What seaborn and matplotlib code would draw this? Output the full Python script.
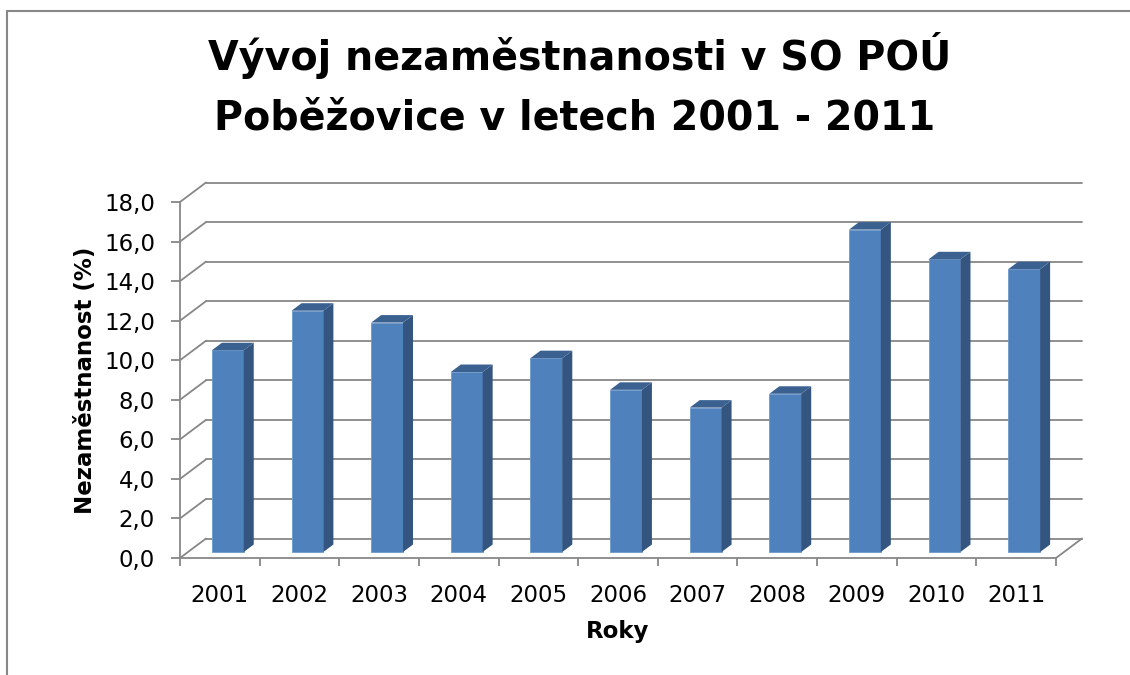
import matplotlib

matplotlib.use("Agg")
import matplotlib.pyplot as plt
import matplotlib.transforms as mtransforms
from matplotlib.lines import Line2D
from matplotlib.patches import Polygon
import pandas as pd
import seaborn as sns

years = ["2001", "2002", "2003", "2004", "2005", "2006", "2007", "2008", "2009", "2010", "2011"]
rates = [10.2, 12.2, 11.6, 9.1, 9.8, 8.2, 7.3, 8.0, 16.3, 14.8, 14.3]
y_ticks = [0, 2, 4, 6, 8, 10, 12, 14, 16, 18]
title_lines = ["Vývoj nezaměstnanosti v SO POÚ", "Poběžovice v letech 2001 - 2011"]
x_label = "Roky"
y_label = "Nezaměstnanost (%)"

FRONT = "#4f81bd"
SIDE = "#34557f"
TOP = "#3b6191"
GRID = "#878787"

W, H, DPI = 1130, 675, 100
# fake 3d depth, in pixels
WALL = (26, 19.5)
BAR_FRONT = (8, 6)
BAR_BACK = (18, 13.5)

sns.set_theme(style="white")
plt.rcParams["font.family"] = ["DejaVu Sans"]
plt.rcParams["text.color"] = "black"

fig = plt.figure(figsize=(W / DPI, H / DPI), dpi=DPI)
ax = fig.add_axes([180 / W, (H - 558) / H, 876 / W, 356 / H])
ax.set_facecolor("none")

df = pd.DataFrame({"Rok": years, "Nezaměstnanost": rates})
sns.barplot(data=df, x="Rok", y="Nezaměstnanost", color=FRONT, saturation=1,
            width=0.4, edgecolor="#6f99cc", linewidth=0.6, ax=ax, zorder=2)

ax.set_xlim(-0.5, len(years) - 0.5)
ax.set_ylim(y_ticks[0], y_ticks[-1])


def disp(x, y, off):
    px, py = ax.transData.transform((x, y))
    return (px + off[0], py + off[1])


ident = mtransforms.IdentityTransform()
x_lo, x_hi = ax.get_xlim()

# back wall gridlines + left wall slants
back = mtransforms.offset_copy(ax.transData, fig=fig, x=WALL[0], y=WALL[1], units="dots")
for v in y_ticks:
    ax.plot([x_lo, x_hi], [v, v], transform=back, color=GRID, lw=1.3, clip_on=False, zorder=0.5)
    p0, p1 = disp(x_lo, v, (0, 0)), disp(x_lo, v, WALL)
    ax.plot([p0[0], p1[0]], [p0[1], p1[1]], transform=ident, color=GRID, lw=1.3, clip_on=False, zorder=0.5)
p0, p1 = disp(x_hi, 0, (0, 0)), disp(x_hi, 0, WALL)
ax.plot([p0[0], p1[0]], [p0[1], p1[1]], transform=ident, color=GRID, lw=1.3, clip_on=False, zorder=0.5)

# bars: shift front face into the floor, add side and top faces
shift = mtransforms.offset_copy(ax.transData, fig=fig, x=BAR_FRONT[0], y=BAR_FRONT[1], units="dots")
for p in list(ax.patches):
    p.set_transform(shift)
    p.set_clip_on(False)
    x0, w, h = p.get_x(), p.get_width(), p.get_height()
    side = [disp(x0 + w, 0, BAR_FRONT), disp(x0 + w, h, BAR_FRONT), disp(x0 + w, h, BAR_BACK), disp(x0 + w, 0, BAR_BACK)]
    top = [disp(x0, h, BAR_FRONT), disp(x0 + w, h, BAR_FRONT), disp(x0 + w, h, BAR_BACK), disp(x0, h, BAR_BACK)]
    for pts, col in ((side, SIDE), (top, TOP)):
        ax.add_patch(Polygon(pts, closed=True, transform=ident, facecolor=col,
                             edgecolor="none", clip_on=False, zorder=2))

ax.set_xlim(x_lo, x_hi)
ax.set_ylim(y_ticks[0], y_ticks[-1])

for s in ["top", "right"]:
    ax.spines[s].set_visible(False)
for s in ["left", "bottom"]:
    ax.spines[s].set_color(GRID)
    ax.spines[s].set_linewidth(1.3)

ax.set_yticks(y_ticks)
ax.set_yticklabels([f"{v:.1f}".replace(".", ",") for v in y_ticks])
ax.tick_params(axis="y", direction="out", length=6.5, width=1.3, color=GRID,
               pad=11.5, labelsize=16.5, labelcolor="black", left=True)
ax.set_xticks(range(len(years)))
ax.set_xticklabels(years)
ax.set_xticks([i - 0.5 for i in range(len(years) + 1)], minor=True)
ax.tick_params(axis="x", which="major", length=0, pad=18.5, labelsize=16.5, labelcolor="black")
ax.tick_params(axis="x", which="minor", direction="out", length=6, width=1.3, color=GRID, bottom=True)
ax.set_xlabel("")
ax.set_ylabel("")

fig.text(580 / W, 1 - 70 / H, title_lines[0], ha="center", va="baseline", fontsize=28.5,
         fontweight="bold", color="black")
fig.text(575 / W, 1 - 130 / H, title_lines[1], ha="center", va="baseline", fontsize=28.5,
         fontweight="bold", color="black")
fig.text(618 / W, 1 - 638 / H, x_label, ha="center", va="baseline", fontsize=16.5,
         fontweight="bold", color="black")
fig.text(86 / W, 1 - 380 / H, y_label, ha="center", va="center", rotation=90, fontsize=16.5,
         fontweight="bold", color="black")

# chart area border (top and left visible)
fig.add_artist(Line2D([7 / W, 1], [1 - 11 / H, 1 - 11 / H], transform=fig.transFigure, color=GRID, lw=1.5))
fig.add_artist(Line2D([7 / W, 7 / W], [0, 1 - 11 / H], transform=fig.transFigure, color=GRID, lw=1.5))

fig.savefig("out.png", dpi=DPI)
plt.close(fig)
